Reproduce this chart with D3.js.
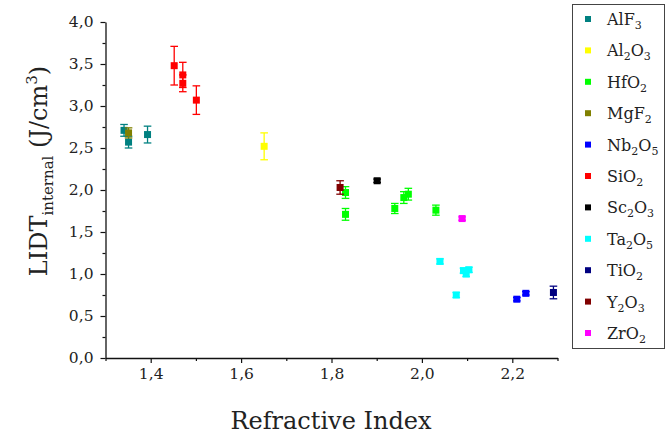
<!DOCTYPE html>
<html><head><meta charset="utf-8">
<script src="https://cdn.jsdelivr.net/npm/d3@7"></script>
<style>
html,body{margin:0;padding:0;background:#fff;}
svg text{font-family:"DejaVu Serif","Liberation Serif",serif;fill:#222;}
</style>
</head><body>
<svg id="chart" width="666" height="436"></svg>
<script>
// ---- data ----
const materials = ["AlF3","Al2O3","HfO2","MgF2","Nb2O5","SiO2","Sc2O3","Ta2O5","TiO2","Y2O3","ZrO2"];
const colors = ["#008080","#ffff00","#00ff00","#808000","#0000ff","#ff0000","#000000","#00ffff","#000080","#800000","#ff00ff"];
const xAlF3 = [1.341, 1.351, 1.393], yAlF3 = [2.71, 2.57, 2.66], eAlF3 = [0.07, 0.07, 0.10];
const xAl2O3 = [1.651], yAl2O3 = [2.52], eAl2O3 = [0.16];
const xHfO2 = [1.831, 1.831, 1.940, 1.960, 1.970, 2.031], yHfO2 = [1.97, 1.71, 1.78, 1.91, 1.95, 1.76], eHfO2 = [0.07, 0.07, 0.06, 0.07, 0.07, 0.06];
const xMgF2 = [1.351], yMgF2 = [2.68], eMgF2 = [0.06];
const xNb2O5 = [2.210, 2.230], yNb2O5 = [0.70, 0.77], eNb2O5 = [0.02, 0.02];
const xSiO2 = [1.452, 1.471, 1.471, 1.501], ySiO2 = [3.48, 3.37, 3.27, 3.07], eSiO2 = [0.23, 0.15, 0.10, 0.17];
const xSc2O3 = [1.901], ySc2O3 = [2.11], eSc2O3 = [0.02];
const xTa2O5 = [2.040, 2.076, 2.092, 2.098, 2.104], yTa2O5 = [1.15, 0.75, 1.04, 1.00, 1.05], eTa2O5 = [0.03, 0.03, 0.03, 0.03, 0.03];
const xTiO2 = [2.291], yTiO2 = [0.78], eTiO2 = [0.075];
const xY2O3 = [1.819], yY2O3 = [2.03], eY2O3 = [0.08];
const xZrO2 = [2.089], yZrO2 = [1.66], eZrO2 = [0.02];
const xMajorTicks = [1.4, 1.6, 1.8, 2.0, 2.2];
const xMinorTicks = [1.3, 1.5, 1.7, 1.9, 2.1, 2.3];
const yMajorTicks = [0, 0.5, 1.0, 1.5, 2.0, 2.5, 3.0, 3.5, 4.0];
const yMinorTicks = [0.25, 0.75, 1.25, 1.75, 2.25, 2.75, 3.25, 3.75];
const xTitle = "Refractive Index";

const seriesX = [xAlF3,xAl2O3,xHfO2,xMgF2,xNb2O5,xSiO2,xSc2O3,xTa2O5,xTiO2,xY2O3,xZrO2];
const seriesY = [yAlF3,yAl2O3,yHfO2,yMgF2,yNb2O5,ySiO2,ySc2O3,yTa2O5,yTiO2,yY2O3,yZrO2];
const seriesE = [eAlF3,eAl2O3,eHfO2,eMgF2,eNb2O5,eSiO2,eSc2O3,eTa2O5,eTiO2,eY2O3,eZrO2];

// ---- layout ----
const svg = d3.select("#chart");
const x = d3.scaleLinear().domain([1.3, 2.3]).range([105.5, 557.5]);
const y = d3.scaleLinear().domain([0, 4]).range([358, 22]);
const fmt = v => d3.format(".1f")(v).replace(".", ",");

// points + error bars
const plot = svg.append("g");
materials.forEach((m, i) => {
  const g = plot.append("g");
  const pts = seriesX[i].map((xv, k) => ({x: xv, y: seriesY[i][k], e: seriesE[i][k]}));
  pts.forEach(p => {
    const cx = x(p.x), t = y(p.y + p.e), b = y(p.y - p.e);
    g.append("line").attr("x1", cx).attr("x2", cx).attr("y1", t).attr("y2", b)
      .attr("stroke", colors[i]).attr("stroke-width", 1.3);
    [t, b].forEach(yy => g.append("line").attr("x1", cx - 3.8).attr("x2", cx + 3.8)
      .attr("y1", yy).attr("y2", yy).attr("stroke", colors[i]).attr("stroke-width", 1.3));
    g.append("rect").attr("x", cx - 3.5).attr("y", y(p.y) - 3.5).attr("width", 7).attr("height", 7)
      .attr("fill", colors[i]);
  });
});

// axes
const xAxis = svg.append("g").attr("transform", "translate(0,358)")
  .call(d3.axisBottom(x).tickValues(xMajorTicks).tickSize(5).tickFormat(fmt).tickSizeOuter(0));
svg.append("g").attr("transform", "translate(0,358)")
  .call(d3.axisBottom(x).tickValues(xMinorTicks).tickSize(3).tickFormat("").tickSizeOuter(0))
  .select(".domain").remove();
const yAxis = svg.append("g").attr("transform", "translate(105.5,0)")
  .call(d3.axisLeft(y).tickValues(yMajorTicks).tickSize(5).tickFormat(fmt).tickSizeOuter(0));
svg.append("g").attr("transform", "translate(105.5,0)")
  .call(d3.axisLeft(y).tickValues(yMinorTicks).tickSize(3).tickFormat("").tickSizeOuter(0))
  .select(".domain").remove();
svg.selectAll(".domain").attr("stroke", "#111").attr("stroke-width", 1.3);
svg.selectAll(".tick line").attr("stroke", "#111").attr("stroke-width", 1.2);
xAxis.selectAll("text").style("font-family", '"DejaVu Serif",serif').style("font-size", "15.5px").attr("fill", "#222").attr("y", 10);
yAxis.selectAll("text").style("font-family", '"DejaVu Serif",serif').style("font-size", "15.5px").attr("fill", "#222").attr("x", -12);

// axis titles
svg.append("text").attr("x", 331).attr("y", 429).attr("text-anchor", "middle")
  .style("font-size", "24px").text(xTitle);
const yt = svg.append("text").attr("transform", "translate(47,171) rotate(-90)").attr("text-anchor", "middle")
  .style("font-size", "24px");
yt.append("tspan").text("LIDT");
yt.append("tspan").attr("dy", 6).style("font-size", "15px").text("internal");
yt.append("tspan").attr("dy", -6).text(" (J/cm");
yt.append("tspan").attr("dy", -10).style("font-size", "15px").text("3");
yt.append("tspan").attr("dy", 10).text(")");

// legend
const lg = svg.append("g");
lg.append("rect").attr("x", 572.5).attr("y", 4.5).attr("width", 92).attr("height", 344)
  .attr("fill", "#fff").attr("stroke", "#444").attr("stroke-width", 1);
materials.forEach((m, i) => {
  const cy = 19 + i * 31.4;
  lg.append("rect").attr("x", 585).attr("y", cy - 3).attr("width", 6).attr("height", 6).attr("fill", colors[i]);
  const t = lg.append("text").attr("x", 607).attr("y", cy + 6).style("font-size", "16px");
  const parts = m.match(/[A-Za-z]+|\d+/g);
  parts.forEach(p => {
    if (/^\d+$/.test(p)) t.append("tspan").attr("dy", 4).style("font-size", "11px").text(p);
    else {
      const prevSub = t.selectAll("tspan").size() > 0 && /^\d+$/.test(t.select("tspan:last-child").text());
      t.append("tspan").attr("dy", prevSub ? -4 : 0).text(p);
    }
  });
});
</script>
</body></html>
